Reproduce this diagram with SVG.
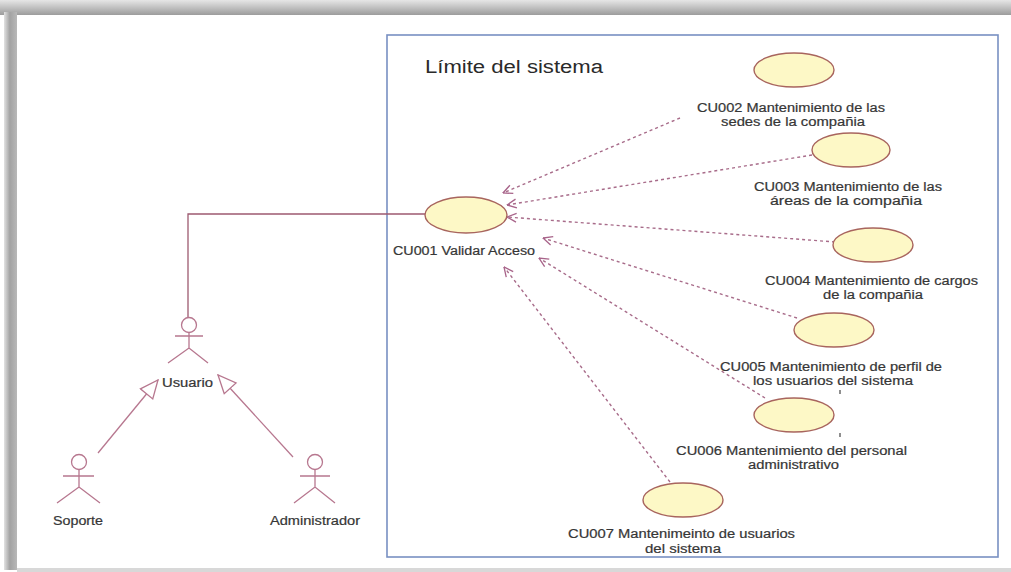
<svg xmlns="http://www.w3.org/2000/svg" width="1011" height="572" viewBox="0 0 1011 572">
  <style>
    .lbl { font-family: "Liberation Sans", Arial, sans-serif; font-size: 12px; fill: #363636; stroke: #363636; stroke-width: 0.2; }
    .title { font-family: "Liberation Sans", Arial, sans-serif; font-size: 18px; fill: #2a2a2a; }
    .uc { fill: #fdf8c6; stroke: #a8655e; stroke-width: 1.4; }
    .actor { fill: none; stroke: #b7778f; stroke-width: 1.3; }
    .assoc { fill: none; stroke: #9d5a70; stroke-width: 1.3; }
    .dep { fill: none; stroke: #a86c8a; stroke-width: 1.4; stroke-dasharray: 3 3; marker-end: url(#open); }
    .gen { fill: none; stroke: #b7778f; stroke-width: 1.3; marker-end: url(#gen); }
    .boundary { fill: none; stroke: #7890c2; stroke-width: 1.6; }
  </style>
  <defs>
    <linearGradient id="topShade" x1="0" y1="0" x2="0" y2="1">
      <stop offset="0" stop-color="#e6e6e6"/>
      <stop offset="1" stop-color="#9c9c9c"/>
    </linearGradient>
    <linearGradient id="leftShade" x1="0" y1="0" x2="1" y2="0">
      <stop offset="0" stop-color="#e2e2e2"/>
      <stop offset="0.45" stop-color="#a2a2a2"/>
      <stop offset="1" stop-color="#b8b8b8"/>
    </linearGradient>
    <marker id="open" viewBox="0 0 10 10" refX="9.5" refY="5" markerWidth="11" markerHeight="11" markerUnits="userSpaceOnUse" orient="auto">
      <path d="M1,1 L9.5,5 L1,9" fill="none" stroke="#a8648a" stroke-width="1.2"/>
    </marker>
    <marker id="gen" viewBox="0 0 20 20" refX="19" refY="10" markerWidth="20" markerHeight="20" markerUnits="userSpaceOnUse" orient="auto">
      <path d="M1,2 L19,10 L1,18 Z" fill="#ffffff" stroke="#b7778f" stroke-width="1.3"/>
    </marker>
  </defs>

  <!-- page with drop shadow -->
  <rect x="0" y="0" width="1011" height="572" fill="#ffffff"/>
  <rect x="0" y="0" width="1011" height="15" fill="url(#topShade)"/>
  <rect x="4" y="12" width="13" height="558" fill="url(#leftShade)"/>
  <rect x="17" y="15" width="994" height="553" fill="#ffffff"/>
  <rect x="17" y="568" width="994" height="4" fill="#d8d8d8"/>

  <!-- system boundary -->
  <g id="system-boundary">
    <rect class="boundary" x="387" y="35" width="611" height="522"/>
    <text class="title" x="425" y="73" textLength="178" lengthAdjust="spacingAndGlyphs">Límite del sistema</text>
  </g>

  <!-- connectors -->
  <g id="connectors">
    <polyline class="assoc" points="425,214 188,214 188,317"/>
    <line class="gen" x1="98" y1="453" x2="158" y2="380"/>
    <line class="gen" x1="293" y1="457" x2="218" y2="375"/>
    <line class="dep" x1="680" y1="118" x2="503" y2="193"/>
    <line class="dep" x1="812" y1="155" x2="507" y2="205"/>
    <line class="dep" x1="835" y1="242" x2="507" y2="217"/>
    <line class="dep" x1="797" y1="318" x2="543" y2="238"/>
    <line class="dep" x1="765" y1="398" x2="539" y2="258"/>
    <line class="dep" x1="670" y1="482" x2="504" y2="267"/>
  </g>

  <!-- actors -->
  <g id="actor-usuario">
    <circle class="actor" cx="189" cy="325" r="7.5"/>
    <path class="actor" d="M189,332.5 V348 M175,336 H203 M168,363 L189,348 L208,363"/>
    <text class="lbl" x="162" y="387" textLength="51" lengthAdjust="spacingAndGlyphs">Usuario</text>
  </g>
  <g id="actor-soporte">
    <circle class="actor" cx="79" cy="462" r="7.5"/>
    <path class="actor" d="M79,469.5 V487 M63,476 H94 M57,503 L79,487 L100,503"/>
    <text class="lbl" x="53" y="525" textLength="50" lengthAdjust="spacingAndGlyphs">Soporte</text>
  </g>
  <g id="actor-administrador">
    <circle class="actor" cx="315" cy="462" r="7.5"/>
    <path class="actor" d="M315,469.5 V487 M300,476 H330 M294,503 L315,487 L335,503"/>
    <text class="lbl" x="270" y="525" textLength="90" lengthAdjust="spacingAndGlyphs">Administrador</text>
  </g>

  <!-- use cases -->
  <g id="cu001">
    <ellipse class="uc" cx="466" cy="215" rx="41" ry="18"/>
    <text class="lbl" x="393" y="255" textLength="142" lengthAdjust="spacingAndGlyphs">CU001 Validar Acceso</text>
  </g>
  <g id="cu002">
    <ellipse class="uc" cx="794" cy="70" rx="40" ry="17"/>
    <text class="lbl" x="697" y="112" textLength="188" lengthAdjust="spacingAndGlyphs">CU002 Mantenimiento de las</text>
    <text class="lbl" x="721" y="126" textLength="144" lengthAdjust="spacingAndGlyphs">sedes de la compañia</text>
  </g>
  <g id="cu003">
    <ellipse class="uc" cx="851" cy="150" rx="39" ry="17"/>
    <text class="lbl" x="754" y="191" textLength="188" lengthAdjust="spacingAndGlyphs">CU003 Mantenimiento de las</text>
    <text class="lbl" x="770" y="205" textLength="152" lengthAdjust="spacingAndGlyphs">áreas de la compañia</text>
  </g>
  <g id="cu004">
    <ellipse class="uc" cx="873" cy="245" rx="40" ry="17"/>
    <text class="lbl" x="765" y="285" textLength="213" lengthAdjust="spacingAndGlyphs">CU004 Mantenimiento de cargos</text>
    <text class="lbl" x="823" y="299" textLength="100" lengthAdjust="spacingAndGlyphs">de la compañia</text>
  </g>
  <g id="cu005">
    <ellipse class="uc" cx="834" cy="330" rx="40" ry="17"/>
    <text class="lbl" x="720" y="371" textLength="222" lengthAdjust="spacingAndGlyphs">CU005 Mantenimiento de perfil de</text>
    <text class="lbl" x="753" y="385" textLength="160" lengthAdjust="spacingAndGlyphs">los usuarios del sistema</text>
    <line x1="840" y1="390" x2="840" y2="394" stroke="#444" stroke-width="1.2"/>
  </g>
  <g id="cu006">
    <ellipse class="uc" cx="794" cy="415" rx="40" ry="17"/>
    <line x1="840" y1="433" x2="840" y2="437" stroke="#444" stroke-width="1.2"/>
    <text class="lbl" x="676" y="455" textLength="231" lengthAdjust="spacingAndGlyphs">CU006 Mantenimiento del personal</text>
    <text class="lbl" x="748" y="469" textLength="91" lengthAdjust="spacingAndGlyphs">administrativo</text>
  </g>
  <g id="cu007">
    <ellipse class="uc" cx="683" cy="500" rx="40" ry="17"/>
    <text class="lbl" x="568" y="538" textLength="227" lengthAdjust="spacingAndGlyphs">CU007 Mantenimeinto de usuarios</text>
    <text class="lbl" x="645" y="553" textLength="76" lengthAdjust="spacingAndGlyphs">del sistema</text>
  </g>
</svg>
